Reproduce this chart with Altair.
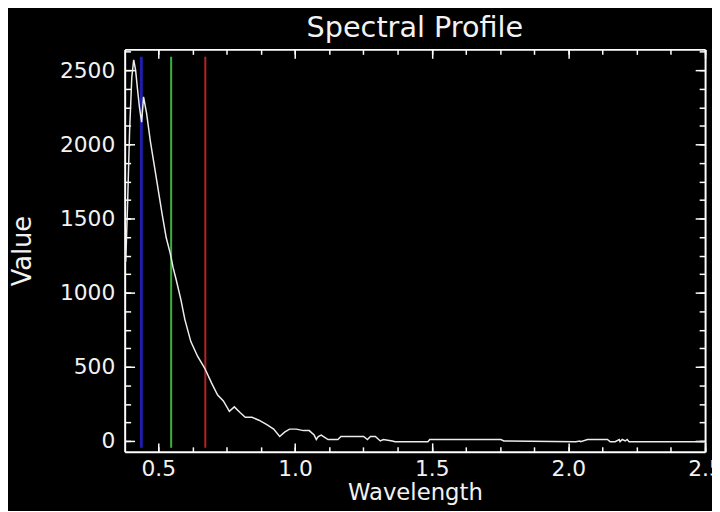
import altair as alt
import pandas as pd

# Spectral profile samples (wavelength in micrometres, value)
wavelength = [0.381, 0.388, 0.395, 0.403, 0.410, 0.417, 0.424, 0.431, 0.439, 0.446,
              0.457, 0.471, 0.486, 0.500, 0.514, 0.529, 0.543, 0.554, 0.565, 0.583,
              0.597, 0.619, 0.644, 0.670, 0.695, 0.717, 0.738, 0.760, 0.778, 0.800,
              0.818, 0.843, 0.868, 0.897, 0.922, 0.944, 0.962, 0.980, 1.005, 1.031,
              1.052, 1.070, 1.078, 1.085, 1.096, 1.121, 1.157, 1.168, 1.251, 1.265,
              1.276, 1.294, 1.312, 1.323, 1.356, 1.366, 1.486, 1.493, 1.753, 1.764,
              2.027, 2.042, 2.045, 2.070, 2.143, 2.153, 2.171, 2.186, 2.189, 2.197,
              2.208, 2.215, 2.222, 2.233, 2.497]
value = [1210, 1620, 2090, 2450, 2570, 2500, 2370, 2250, 2150, 2320,
         2210, 2020, 1850, 1690, 1530, 1370, 1270, 1170, 1090, 950,
         820, 670, 570, 490, 390, 310, 270, 200, 230, 190,
         160, 160, 140, 110, 80, 30, 60, 80, 80, 70,
         70, 40, 10, 30, 40, 10, 10, 30, 30, 10,
         30, 30, 0, 10, 0, -5, -5, 10, 10, 0,
         -5, 0, -5, 10, 10, -5, -5, 10, -5, 10,
         0, 10, -5, -5, -5]

# RGB band markers
band_names = ["Blue", "Green", "Red"]
band_wavelength = [0.438, 0.547, 0.672]
band_low = [-45, -45, -45]
band_high = [2590, 2590, 2590]
band_colors = ["#1e1ea8", "#3cb43c", "#b42424"]
band_widths = [3, 2, 2]

x_major = [0.5, 1.0, 1.5, 2.0, 2.5]
x_minor = [0.375 + 0.125 * i for i in range(18)]
y_major = [0, 500, 1000, 1500, 2000, 2500]
y_minor = [125 * i for i in range(22)]

x_domain = [0.377, 2.5]
y_domain = [-73, 2640]

df = pd.DataFrame({"Wavelength": wavelength, "Value": value})
bands = pd.DataFrame({"band": band_names, "wl": band_wavelength,
                      "lo": band_low, "hi": band_high, "w": band_widths})

FONT = "DejaVu Sans"
xs = alt.Scale(domain=x_domain, nice=False, zero=False)
ys = alt.Scale(domain=y_domain, nice=False, zero=False)

def ax(orient, values, dash, labels=False, title=None, domain=False, **kw):
    return alt.Axis(orient=orient, values=values, ticks=False, grid=True,
                    gridColor="white", gridWidth=1.5, gridDash=dash, gridOpacity=1,
                    domain=domain, domainColor="white", domainWidth=2,
                    labels=labels, title=title, labelColor="#f2f2f2",
                    labelFont=FONT, labelFontSize=22, titleColor="#f2f2f2",
                    titleFont=FONT, titleFontWeight="normal", **kw)

line = alt.Chart(df).mark_line(color="#ececec", strokeWidth=1.5).encode(
    x=alt.X("Wavelength:Q", scale=xs,
            axis=ax("bottom", x_major, [9, 3000], labels=True, title="Wavelength",
                    domain=True, format=".1f", labelPadding=7, titlePadding=2,
                    titleFontSize=23, labelFlush=False, labelBound=False,
                    labelOverlap=False)),
    y=alt.Y("Value:Q", scale=ys,
            axis=ax("left", y_major, [10, 3000], labels=True, title="Value",
                    domain=True, format="d", labelPadding=10, titlePadding=24,
                    titleFontSize=26, labelFlush=False)),
)

rules = alt.Chart(bands).mark_rule().encode(
    x=alt.X("wl:Q", scale=xs, axis=ax("top", x_major, [9, 3000], domain=True)),
    y=alt.Y("lo:Q", scale=ys, axis=ax("right", y_major, [10, 3000], domain=True)),
    y2="hi:Q",
    color=alt.Color("band:N", scale=alt.Scale(domain=band_names, range=band_colors), legend=None),
    strokeWidth=alt.StrokeWidth("w:Q", scale=None),
)

minor_a = alt.Chart(df).mark_line(opacity=0).encode(
    x=alt.X("Wavelength:Q", scale=xs, axis=ax("bottom", x_minor, [5, 3000])),
    y=alt.Y("Value:Q", scale=ys, axis=ax("left", y_minor, [6, 3000])),
)
minor_b = alt.Chart(df).mark_line(opacity=0).encode(
    x=alt.X("Wavelength:Q", scale=xs, axis=ax("top", x_minor, [5, 3000])),
    y=alt.Y("Value:Q", scale=ys, axis=ax("right", y_minor, [6, 3000])),
)

chart = alt.layer(minor_a, minor_b, rules, line).resolve_axis(
    x="independent", y="independent"
).resolve_scale(x="shared", y="shared").properties(
    width=587, height=407,
    title=alt.TitleParams("Spectral Profile", color="#f2f2f2", font=FONT, fontSize=29,
                          fontWeight="normal", offset=7),
    autosize=alt.AutoSizeParams(type="none"),
    padding={"left": 118, "top": 39, "right": 7, "bottom": 57},
    background="black",
).configure_view(stroke=None)

chart.save("out.html", embed_options={"renderer": "svg", "actions": False})
